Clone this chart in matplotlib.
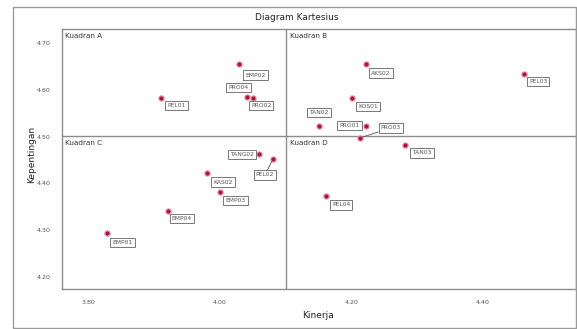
import numpy as np
import matplotlib
matplotlib.use("Agg")
import matplotlib.pyplot as plt
from matplotlib.patches import Rectangle

# Kinerja (x) vs Kepentingan (y) per indikator
labels = ["PEL01", "EMP02", "PRO04", "PRO02",
          "AKS02", "PEL03", "KOS01", "TAN02", "PRO01", "PRO03",
          "TANG02", "PEL02", "KAS02", "EMP03", "EMP04", "EMP01",
          "TAN03", "PEL04"]
kinerja = [3.911, 4.030, 4.042, 4.051,
           4.222, 4.463, 4.201, 4.151, 4.222, 4.213,
           4.060, 4.081, 3.981, 4.001, 3.921, 3.829,
           4.282, 4.162]
kepentingan = [4.582, 4.655, 4.585, 4.582,
               4.655, 4.634, 4.582, 4.523, 4.523, 4.497,
               4.463, 4.452, 4.422, 4.382, 4.341, 4.294,
               4.482, 4.373]
x_ticks = [3.80, 4.00, 4.20, 4.40]
y_ticks = [4.20, 4.30, 4.40, 4.50, 4.60, 4.70]
quadrants = ["Kuadran A", "Kuadran B", "Kuadran C", "Kuadran D"]

# label box offsets (pixels, relative to the point; +y is up)
offsets = [(15, -7), (16, -11), (-9, 9), (8, -7),
           (15, -9), (14, -8), (16, -8), (0, 13), (-16, 0), (31, 10),
           (-17, -1), (-8, -16), (16, -9), (15, -9), (14, -8), (15, -10),
           (17, -8), (15, -9)]
leader = {"PRO03", "PEL02"}

W, H = 577, 329
fig = plt.figure(figsize=(W / 100, H / 100), dpi=100)
fig.patch.set_facecolor("white")

# outer frame
fig.patches.append(Rectangle((13 / W, 1 - 328 / H), (576 - 13) / W, (328 - 7) / H,
                             transform=fig.transFigure, fill=False,
                             edgecolor="#9a9a9a", linewidth=1.0))

ax = fig.add_axes([62 / W, 1 - 289 / H, (576 - 62) / W, (289 - 29) / H])
ax.set_xlim(3.760, 4.542)
ax.set_ylim(4.174, 4.730)

for s in ax.spines.values():
    s.set_color("#8c8c8c")
    s.set_linewidth(1.0)

ax.set_xticks(x_ticks)
ax.set_xticklabels([f"{v:.2f}" for v in x_ticks])
ax.set_yticks(y_ticks)
ax.set_yticklabels([f"{v:.2f}" for v in y_ticks])
ax.tick_params(length=0, labelsize=4.5, labelcolor="#555555", pad=8)

xm = np.mean(kinerja)
ym = np.mean(kepentingan)
ax.axvline(xm, color="#8c8c8c", linewidth=1.0)
ax.axhline(ym, color="#8c8c8c", linewidth=1.0)

ax.scatter(kinerja, kepentingan, s=14, color="#b3123c", edgecolors="#e88aa0",
           linewidths=0.8, zorder=3)

for name, x, y, (dx, dy) in zip(labels, kinerja, kepentingan, offsets):
    ax.annotate(name, (x, y), xytext=(dx, dy), textcoords="offset pixels",
                ha="center", va="center", fontsize=4.3, color="#555555",
                bbox=dict(boxstyle="square,pad=0.35", fc="white",
                          ec="#777777", lw=0.7),
                arrowprops=(dict(arrowstyle="-", color="#555555", lw=0.6,
                                 shrinkA=0, shrinkB=2)
                            if name in leader else None),
                zorder=4)

# quadrant titles
qa = dict(fontsize=5.2, color="#333333", va="top", ha="left")
ax.text(3.760 + 0.005, 4.730 - 0.008, quadrants[0], **qa)
ax.text(xm + 0.005, 4.730 - 0.008, quadrants[1], **qa)
ax.text(3.760 + 0.005, ym - 0.008, quadrants[2], **qa)
ax.text(xm + 0.005, ym - 0.008, quadrants[3], **qa)

fig.text(297 / W, 1 - 18 / H, "Diagram Kartesius", ha="center", va="center",
         fontsize=6.5, color="#222222")
fig.text(32 / W, 1 - 154 / H, "Kepentingan", ha="center", va="center",
         rotation=90, fontsize=6.5, color="#222222")
fig.text(318 / W, 1 - 316 / H, "Kinerja", ha="center", va="center",
         fontsize=6.5, color="#222222")

fig.savefig("out.png", dpi=100, facecolor="white")
